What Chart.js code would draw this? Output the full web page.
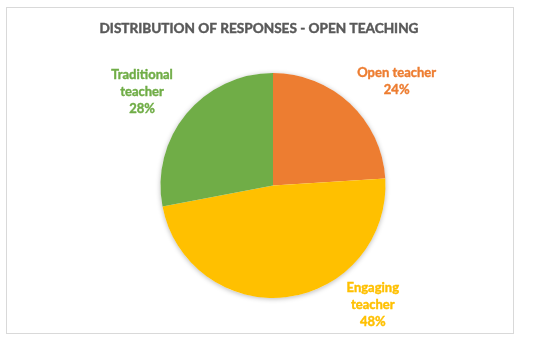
<!DOCTYPE html>
<html>
<head>
<meta charset="utf-8">
<script src="https://cdn.jsdelivr.net/npm/chart.js@4.4.1/dist/chart.umd.min.js"></script>
<style>
  html, body { margin: 0; padding: 0; background: #fff; }
  #frame {
    position: absolute; left: 6px; top: 7px;
    width: 508px; height: 327px; box-sizing: border-box;
    border: 1px solid #d9d9d9;
  }
  #frame canvas { display: block; }
</style>
</head>
<body>
<div id="frame"><canvas id="pieChart" width="506" height="325"></canvas></div>
<script>
// ---- data ----
const chartTitle = 'DISTRIBUTION OF RESPONSES - OPEN TEACHING';
const labels = [['Open teacher'], ['Engaging', 'teacher'], ['Traditional', 'teacher']];
const shares = [24, 48, 28];
const colors = ['#ED7D31', '#FFC000', '#70AD47'];

// where each label sits, as angle (deg) and distance (x radius) from the pie centre
const LABEL_SPOTS = [
  { angle: -40, dist: 1.435 },
  { angle: 50, dist: 1.38 },
  { angle: 215.5, dist: 1.43 }
];

// title centred on the whole frame (the pie itself sits a bit right of centre)
const frameTitle = {
  id: 'frameTitle',
  afterDraw(chart) {
    const ctx = chart.ctx;
    ctx.save();
    ctx.font = 'bold 13.6px Lato';
    ctx.textAlign = 'center';
    ctx.textBaseline = 'middle';
    ctx.fillStyle = '#595959';
    ctx.strokeStyle = '#595959';
    ctx.lineWidth = 0.45;
    ctx.fillText(chartTitle, chart.width / 2 - 1, 21);
    ctx.strokeText(chartTitle, chart.width / 2 - 1, 21);
    ctx.restore();
  }
};

// soft drop shadow behind the pie, like the office default
const pieShadow = {
  id: 'pieShadow',
  beforeDatasetsDraw(chart) {
    const arc = chart.getDatasetMeta(0).data[0];
    if (!arc) return;
    const ctx = chart.ctx;
    ctx.save();
    ctx.shadowColor = 'rgba(0,0,0,0.28)';
    ctx.shadowBlur = 5;
    ctx.shadowOffsetY = 1;
    ctx.fillStyle = '#fff';
    ctx.beginPath();
    ctx.arc(arc.x, arc.y, arc.outerRadius, 0, Math.PI * 2);
    ctx.fill();
    ctx.restore();
  }
};

// outside labels: category + percentage in slice colour
const outsideLabels = {
  id: 'outsideLabels',
  afterDatasetsDraw(chart) {
    const ctx = chart.ctx;
    const meta = chart.getDatasetMeta(0);
    const lh = 17;
    ctx.save();
    ctx.font = 'bold 13px Lato';
    ctx.textAlign = 'center';
    ctx.textBaseline = 'middle';
    ctx.lineWidth = 0.4;
    meta.data.forEach((arc, i) => {
      const spot = LABEL_SPOTS[i];
      const a = spot.angle * Math.PI / 180;
      const cx = arc.x + Math.cos(a) * arc.outerRadius * spot.dist;
      const cy = arc.y + Math.sin(a) * arc.outerRadius * spot.dist;
      const lines = labels[i].concat(shares[i] + '%');
      const top = cy - (lines.length - 1) * lh / 2;
      ctx.fillStyle = colors[i];
      ctx.strokeStyle = colors[i];
      lines.forEach((t, k) => {
        ctx.fillText(t, cx, top + k * lh);
        ctx.strokeText(t, cx, top + k * lh);
      });
    });
    ctx.restore();
  }
};

new Chart(document.getElementById('pieChart'), {
  type: 'pie',
  data: {
    labels: labels.map(l => l.join(' ')),
    datasets: [{
      data: shares,
      backgroundColor: colors,
      borderWidth: 0,
      offset: 0,
      hoverOffset: 0
    }]
  },
  options: {
    responsive: false,
    animation: false,
    layout: { padding: { left: 40, right: 14, top: 65, bottom: 35 } },
    plugins: {
      legend: { display: false },
      tooltip: { enabled: false },
      title: { display: false }
    }
  },
  plugins: [pieShadow, outsideLabels, frameTitle]
});
</script>
</body>
</html>
